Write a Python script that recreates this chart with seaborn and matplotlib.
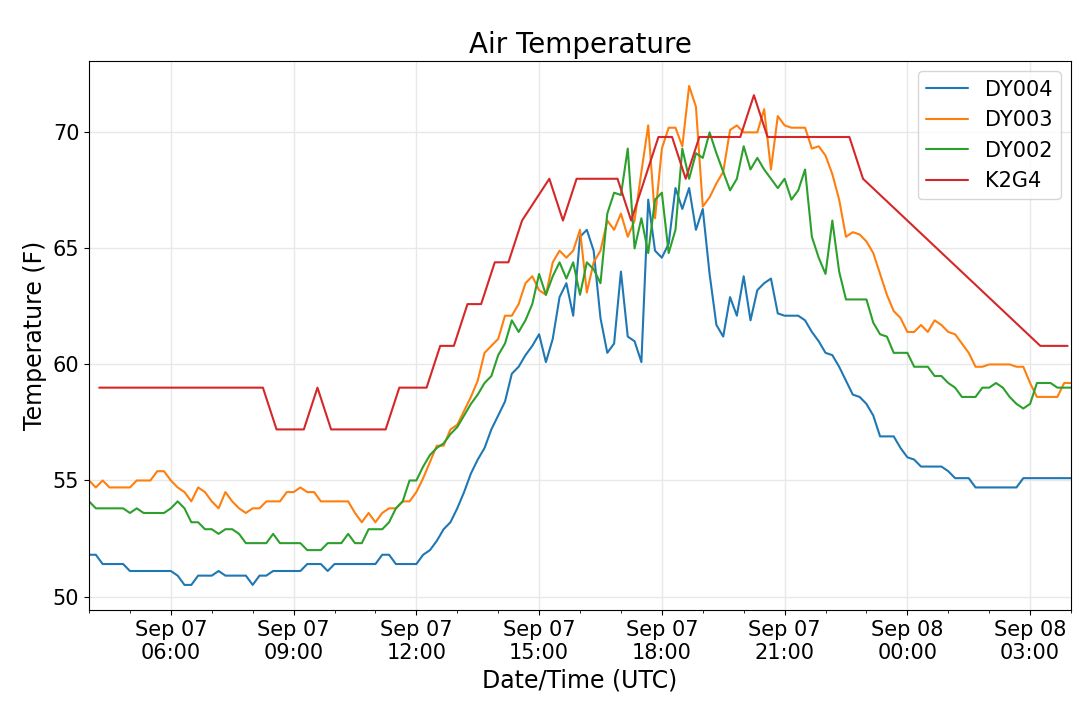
import matplotlib
matplotlib.use("Agg")
import matplotlib.pyplot as plt
import matplotlib.dates as mdates
from matplotlib.ticker import MultipleLocator
import pandas as pd
import seaborn as sns

# 10-minute station readings, Sep 07 04:00 UTC to Sep 08 04:00 UTC
dy_times = pd.date_range("2019-09-07 04:00", "2019-09-08 04:00", freq="10min")

dy004 = [51.8, 51.8, 51.4, 51.4, 51.4, 51.4, 51.1, 51.1, 51.1, 51.1,
         51.1, 51.1, 51.1, 50.9, 50.5, 50.5, 50.9, 50.9, 50.9, 51.1,
         50.9, 50.9, 50.9, 50.9, 50.5, 50.9, 50.9, 51.1, 51.1, 51.1,
         51.1, 51.1, 51.4, 51.4, 51.4, 51.1, 51.4, 51.4, 51.4, 51.4,
         51.4, 51.4, 51.4, 51.8, 51.8, 51.4, 51.4, 51.4, 51.4, 51.8,
         52.0, 52.4, 52.9, 53.2, 53.8, 54.5, 55.3, 55.9, 56.4, 57.2,
         57.8, 58.4, 59.6, 59.9, 60.4, 60.8, 61.3, 60.1, 61.1, 62.9,
         63.5, 62.1, 65.5, 65.8, 64.9, 62.0, 60.5, 60.9, 64.0, 61.2,
         61.0, 60.1, 67.1, 64.9, 64.6, 65.2, 67.6, 66.7, 67.6, 65.8,
         66.7, 63.9, 61.7, 61.2, 62.9, 62.1, 63.8, 61.9, 63.2, 63.5,
         63.7, 62.2, 62.1, 62.1, 62.1, 61.9, 61.4, 61.0, 60.5, 60.4,
         59.9, 59.3, 58.7, 58.6, 58.3, 57.8, 56.9, 56.9, 56.9, 56.4,
         56.0, 55.9, 55.6, 55.6, 55.6, 55.6, 55.4, 55.1, 55.1, 55.1,
         54.7, 54.7, 54.7, 54.7, 54.7, 54.7, 54.7, 55.1, 55.1, 55.1,
         55.1, 55.1, 55.1, 55.1, 55.1]

dy003 = [55.0, 54.7, 55.0, 54.7, 54.7, 54.7, 54.7, 55.0, 55.0, 55.0,
         55.4, 55.4, 55.0, 54.7, 54.5, 54.1, 54.7, 54.5, 54.1, 53.8,
         54.5, 54.1, 53.8, 53.6, 53.8, 53.8, 54.1, 54.1, 54.1, 54.5,
         54.5, 54.7, 54.5, 54.5, 54.1, 54.1, 54.1, 54.1, 54.1, 53.6,
         53.2, 53.6, 53.2, 53.6, 53.8, 53.8, 54.1, 54.1, 54.5, 55.1,
         55.8, 56.5, 56.5, 57.2, 57.4, 58.0, 58.6, 59.3, 60.5, 60.8,
         61.1, 62.1, 62.1, 62.6, 63.5, 63.8, 63.2, 63.0, 64.4, 64.9,
         64.6, 64.9, 65.8, 63.1, 64.4, 64.9, 66.2, 65.8, 66.5, 65.5,
         66.2, 68.3, 70.3, 66.3, 69.3, 70.2, 70.2, 69.4, 72.0, 71.1,
         66.8, 67.2, 67.8, 68.3, 70.1, 70.3, 70.0, 70.0, 70.0, 71.0,
         68.4, 70.7, 70.3, 70.2, 70.2, 70.2, 69.3, 69.4, 69.0, 68.2,
         67.1, 65.5, 65.7, 65.6, 65.3, 64.8, 63.9, 63.0, 62.3, 62.0,
         61.4, 61.4, 61.7, 61.4, 61.9, 61.7, 61.4, 61.3, 60.9, 60.5,
         59.9, 59.9, 60.0, 60.0, 60.0, 60.0, 59.9, 59.9, 59.2, 58.6,
         58.6, 58.6, 58.6, 59.2, 59.2]

dy002 = [54.1, 53.8, 53.8, 53.8, 53.8, 53.8, 53.6, 53.8, 53.6, 53.6,
         53.6, 53.6, 53.8, 54.1, 53.8, 53.2, 53.2, 52.9, 52.9, 52.7,
         52.9, 52.9, 52.7, 52.3, 52.3, 52.3, 52.3, 52.7, 52.3, 52.3,
         52.3, 52.3, 52.0, 52.0, 52.0, 52.3, 52.3, 52.3, 52.7, 52.3,
         52.3, 52.9, 52.9, 52.9, 53.2, 53.8, 54.1, 55.0, 55.0, 55.6,
         56.1, 56.4, 56.6, 57.0, 57.3, 57.8, 58.3, 58.7, 59.2, 59.5,
         60.4, 60.9, 61.9, 61.4, 61.9, 62.6, 63.9, 63.0, 63.8, 64.4,
         63.7, 64.4, 63.0, 64.4, 64.1, 63.5, 66.5, 67.4, 67.3, 69.3,
         65.0, 66.3, 64.8, 67.1, 67.4, 64.8, 65.8, 69.3, 68.0, 69.1,
         68.9, 70.0, 69.1, 68.3, 67.5, 68.0, 69.4, 68.4, 68.9, 68.4,
         68.0, 67.6, 68.0, 67.1, 67.5, 68.4, 65.5, 64.6, 63.9, 66.2,
         64.0, 62.8, 62.8, 62.8, 62.8, 61.8, 61.3, 61.2, 60.5, 60.5,
         60.5, 59.9, 59.9, 59.9, 59.5, 59.5, 59.2, 59.0, 58.6, 58.6,
         58.6, 59.0, 59.0, 59.2, 59.0, 58.6, 58.3, 58.1, 58.3, 59.2,
         59.2, 59.2, 59.0, 59.0, 59.0]

# airport observations (whole degrees C, shown in F)
k2g4_times = ["2019-09-07 04:15", "2019-09-07 08:15", "2019-09-07 08:35",
              "2019-09-07 09:15", "2019-09-07 09:35", "2019-09-07 09:55",
              "2019-09-07 11:15", "2019-09-07 11:35", "2019-09-07 12:15",
              "2019-09-07 12:35", "2019-09-07 12:55", "2019-09-07 13:15",
              "2019-09-07 13:35", "2019-09-07 13:55", "2019-09-07 14:15",
              "2019-09-07 14:35", "2019-09-07 15:15", "2019-09-07 15:35",
              "2019-09-07 15:55", "2019-09-07 16:55", "2019-09-07 17:15",
              "2019-09-07 17:35", "2019-09-07 17:55", "2019-09-07 18:15",
              "2019-09-07 18:35", "2019-09-07 18:55", "2019-09-07 19:55",
              "2019-09-07 20:15", "2019-09-07 20:35", "2019-09-07 22:35",
              "2019-09-07 22:55", "2019-09-08 03:15", "2019-09-08 03:55"]
k2g4_temp = [59.0, 59.0, 57.2, 57.2, 59.0, 57.2, 57.2, 59.0, 59.0,
             60.8, 60.8, 62.6, 62.6, 64.4, 64.4, 66.2, 68.0, 66.2,
             68.0, 68.0, 66.2, 68.0, 69.8, 69.8, 68.0, 69.8, 69.8,
             71.6, 69.8, 69.8, 68.0, 60.8, 60.8]

sns.set_style("ticks", {"axes.grid": True, "grid.color": "#e8e8e8",
                        "axes.edgecolor": "black", "text.color": "black",
                        "axes.labelcolor": "black", "xtick.color": "black",
                        "ytick.color": "black"})
plt.rcParams["font.family"] = "DejaVu Sans"
plt.rcParams["font.size"] = 15

fig, ax = plt.subplots(figsize=(10.79, 7.01), dpi=100)
fig.subplots_adjust(left=0.0825, right=0.9926, top=0.913, bottom=0.13)

sns.lineplot(x=dy_times, y=dy004, color="#1f77b4", label="DY004", linewidth=1.5, ax=ax)
sns.lineplot(x=dy_times, y=dy003, color="#ff7f0e", label="DY003", linewidth=1.5, ax=ax)
sns.lineplot(x=dy_times, y=dy002, color="#2ca02c", label="DY002", linewidth=1.5, ax=ax)
sns.lineplot(x=pd.to_datetime(k2g4_times), y=k2g4_temp, color="#d62728", label="K2G4",
             linewidth=1.5, ax=ax)

ax.xaxis.set_major_locator(mdates.HourLocator(byhour=range(0, 24, 3)))
ax.xaxis.set_minor_locator(mdates.HourLocator())
ax.xaxis.set_major_formatter(mdates.DateFormatter("%b %d\n%H:%M"))
ax.set_xlim(dy_times[0], dy_times[-1])
ax.yaxis.set_major_locator(MultipleLocator(5))
ax.grid(True, which="major", color="#e8e8e8", linewidth=1.0)

ax.set_title("Air Temperature", fontsize=20)
ax.set_xlabel("Date/Time (UTC)", fontsize=17)
ax.set_ylabel("Temperature (F)", fontsize=17)
ax.legend(loc="upper right")

fig.savefig("out.png", dpi=100)
